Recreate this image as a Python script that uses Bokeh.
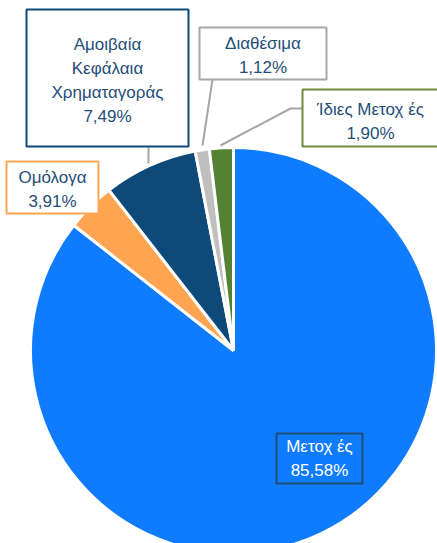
import math
from bokeh.plotting import figure
from bokeh.models import Range1d, ColumnDataSource
from bokeh.core.properties import value
from bokeh.embed import file_html
from bokeh.resources import INLINE

categories = ["Μετοχ ές", "Ομόλογα", "Αμοιβαία\nΚεφάλαια\nΧρηματαγοράς", "Διαθέσιμα", "Ίδιες Μετοχ ές"]
shares = [85.58, 3.91, 7.49, 1.12, 1.90]
colors = ["#0F7BFF", "#FFA552", "#0D4A7A", "#BFBFBF", "#548235"]
border_colors = ["#1F4E79", "#FFA552", "#0D4A7A", "#A6A6A6", "#6E8B3D"]

W, H = 437, 543
def Y(py):
    return H - py

p = figure(width=W, height=H, output_backend="svg", toolbar_location=None,
           x_range=Range1d(0, W), y_range=Range1d(0, H), min_border=0)
p.axis.visible = False
p.grid.visible = False
p.outline_line_color = None
p.background_fill_color = "white"

total = sum(shares)
starts, ends = [], []
cum = 0.0
for s in shares:
    starts.append(math.pi / 2 - cum / total * 2 * math.pi)
    cum += s
    ends.append(math.pi / 2 - cum / total * 2 * math.pi)

cx, cy, r = 233, Y(350), 203
src = ColumnDataSource(dict(start=starts, end=ends, color=colors))
p.wedge(x=cx, y=cy, radius=r, start_angle="start", end_angle="end", direction="clock",
        fill_color="color", line_color="white", line_width=3, source=src)

# leader lines
p.line(x=[148, 148], y=[Y(147), Y(163)], line_color="#A6A6A6", line_width=2)
p.line(x=[212, 202], y=[Y(79), Y(145)], line_color="#A6A6A6", line_width=2)
p.line(x=[302, 290, 220], y=[Y(108), Y(108), Y(145)], line_color="#A6A6A6", line_width=2)

# label boxes: (left, top, right, bottom) in pixels, text centre
boxes = [
    (276, 433, 362, 483),
    (6, 161, 98, 213),
    (26, 9, 188, 146),
    (199, 27, 326, 79),
    (302, 89, 440, 146),
]
fills = ["#0F7BFF", "white", "white", "white", "white"]
text_colors = ["white", "#1F4E79", "#1F4E79", "#1F4E79", "#1F4E79"]
text_y = [458, 189, 80, 55, 121]

for i, (l, t, rr, b) in enumerate(boxes):
    p.quad(left=l, right=rr, top=Y(t), bottom=Y(b), fill_color=fills[i],
           line_color=border_colors[i], line_width=2)
    label = categories[i] + "\n" + f"{shares[i]:.2f}%".replace(".", ",")
    p.text(x=[(l + rr) / 2 if i != 4 else 370], y=[Y(text_y[i])], text=[label],
           text_align="center", text_baseline="middle",
           text_font=value("Liberation Sans"), text_font_size="17px",
           text_line_height=1.28, text_color=text_colors[i])

open("out.html", "w").write(file_html(p, INLINE))
